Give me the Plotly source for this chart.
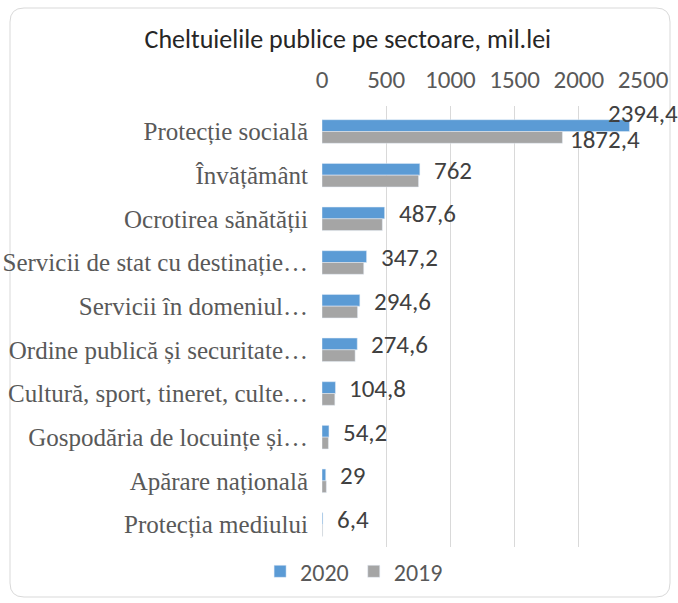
import plotly.graph_objects as go

categories = ["Protecție socială", "Învățământ", "Ocrotirea sănătății",
              "Servicii de stat cu destinație…", "Servicii în domeniul…",
              "Ordine publică și securitate…", "Cultură, sport, tineret, culte…",
              "Gospodăria de locuințe și…", "Apărare națională", "Protecția mediului"]
values_2020 = [2394.4, 762, 487.6, 347.2, 294.6, 274.6, 104.8, 54.2, 29, 6.4]
values_2019 = [1872.4, 752, 470, 325, 277, 258, 100, 50, 34, 5]
labels_2020 = ["2394,4", "762", "487,6", "347,2", "294,6", "274,6", "104,8", "54,2", "29", "6,4"]
label_2019_first = "1872,4"
x_ticks = [0, 500, 1000, 1500, 2000, 2500]

sans = "Carlito, Lato, Liberation Sans, sans-serif"
serif = "Liberation Serif, serif"

fig = go.Figure()
fig.add_trace(go.Bar(name="2020", y=categories, x=values_2020, orientation="h",
                     marker_color="#5B9BD5"))
fig.add_trace(go.Bar(name="2019", y=categories, x=values_2019, orientation="h",
                     marker_color="#A5A5A5"))

annotations = []
for i, (c, v, t) in enumerate(zip(categories, values_2020, labels_2020)):
    if i == 0:
        annotations.append(dict(x=v, y=c, text=t, showarrow=False, xanchor="left",
                                xshift=-23, yshift=18))
    else:
        annotations.append(dict(x=v, y=c, text=t, showarrow=False, xanchor="left",
                                xshift=12, yshift=5))
annotations.append(dict(x=values_2019[0], y=categories[0], text=label_2019_first,
                        showarrow=False, xanchor="left", xshift=6, yshift=-8))
for a in annotations:
    a["font"] = dict(family=sans, size=25, color="#404040")

# rounded border in paper coords
x0, x1 = (10 - 322) / 321, (670 - 322) / 321
y0, y1 = (547 - 597) / 441, (547 - 8) / 441
rx, ry = 14 / 321, 14 / 441
path = (f"M {x0+rx},{y1} L {x1-rx},{y1} Q {x1},{y1} {x1},{y1-ry} "
        f"L {x1},{y0+ry} Q {x1},{y0} {x1-rx},{y0} L {x0+rx},{y0} "
        f"Q {x0},{y0} {x0},{y0+ry} L {x0},{y1-ry} Q {x0},{y1} {x0+rx},{y1} Z")

fig.update_layout(
    width=678, height=603,
    margin=dict(l=322, r=35, t=106, b=56, autoexpand=False),
    paper_bgcolor="white", plot_bgcolor="white",
    barmode="group", bargap=0.46, bargroupgap=0,
    title=dict(text="Cheltuielile publice pe sectoare, mil.lei", x=0.513, xanchor="center",
               y=1 - 39 / 603, yanchor="middle",
               font=dict(family=sans, size=26, color="#262626")),
    xaxis=dict(side="top", range=[0, 2500], tickvals=x_ticks, ticktext=[str(v) for v in x_ticks],
               showgrid=True, gridcolor="#D9D9D9", gridwidth=1, zeroline=False, automargin=False,
               showline=False, ticks="", ticklabelstandoff=12,
               tickfont=dict(family=sans, size=25, color="#595959")),
    yaxis=dict(autorange="reversed", showgrid=False, ticks="", showline=False, automargin=False,
               ticklabelstandoff=13,
               tickfont=dict(family=serif, size=25, color="#595959")),
    legend=dict(orientation="h", x=0.1, xanchor="center", y=-0.005, yanchor="top",
                font=dict(family=sans, size=24, color="#595959"), traceorder="normal",
                itemwidth=30),
    annotations=annotations,
    shapes=[dict(type="path", path=path, xref="paper", yref="paper",
                 line=dict(color="#D9D9D9", width=1), layer="below")],
    showlegend=True,
)

fig.write_html("out.html", config={"displayModeBar": False},
               post_script="document.body.style.margin='0';")
